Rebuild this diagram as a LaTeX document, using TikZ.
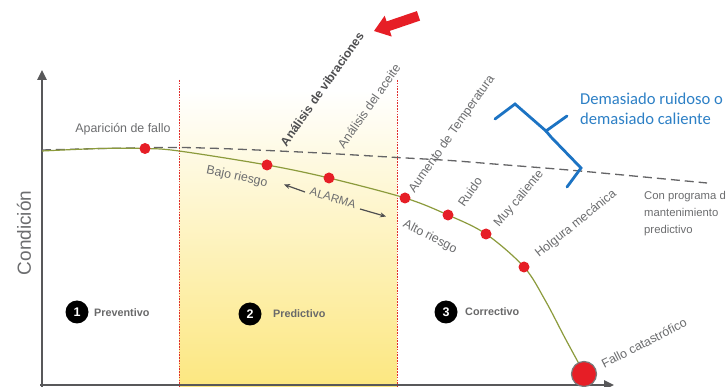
\documentclass[tikz,border=0pt]{standalone}
\usepackage{fontspec}
\setmainfont{Liberation Sans}
\newfontfamily\calibfont{Carlito}
\usetikzlibrary{arrows.meta}
\definecolor{lblgray}{RGB}{108,109,111}
\definecolor{dkgray}{RGB}{78,78,80}
\definecolor{axisgray}{RGB}{88,88,90}
\definecolor{dashgray}{RGB}{100,100,102}
\definecolor{curvegreen}{RGB}{140,155,60}
\definecolor{dotred}{RGB}{230,30,38}
\definecolor{zoneyellow}{RGB}{252,231,128}
\definecolor{zonered}{RGB}{225,45,45}
\definecolor{braceblue}{RGB}{28,115,195}
\definecolor{txtblue}{RGB}{45,128,198}
\begin{document}
\begin{tikzpicture}[x=1pt,y=1pt,
  lbl/.style={text=lblgray, font=\fontsize{12.4}{14}\selectfont, inner sep=1pt},
  boldlbl/.style={text=dkgray, font=\bfseries\fontsize{12.2}{14}\selectfont, inner sep=1pt},
  zonelbl/.style={text=dkgray!85, font=\bfseries\fontsize{10.8}{12}\selectfont, inner sep=0pt, anchor=west},
  numcirc/.style={circle, fill=black, text=white, minimum size=23pt, inner sep=0pt, font=\bfseries\fontsize{12.5}{12}\selectfont},
  reddot/.style={circle, fill=dotred, minimum size=11pt, inner sep=0pt},
  bigdot/.style={circle, fill=dotred, draw=axisgray!80, line width=1.2pt, minimum size=25pt, inner sep=0pt},
  zoneline/.style={zonered, line width=0.8pt, dash pattern=on 1.6pt off 1.2pt},
  axisline/.style={axisgray, line width=2.4pt},
  dashline/.style={dashgray, line width=1.3pt, dash pattern=on 9pt off 5pt},
  curveline/.style={curvegreen, line width=1.2pt},
  alarmarrow/.style={dkgray, line width=1.2pt, -{Stealth[length=6pt,width=5pt]}},
  bracestyle/.style={braceblue, line width=2.8pt, line cap=round, line join=miter},
  bluetxt/.style={text=txtblue, font=\calibfont\fontsize{16.6}{20}\selectfont, inner sep=0pt, anchor=base west},
  progtxt/.style={text=lblgray, font=\fontsize{11.3}{13}\selectfont, inner sep=0pt, anchor=base west}
]
\useasboundingbox (0,0) rectangle (726,-387);
\clip (0,0) rectangle (726,-387);
\fill[white] (0,0) rectangle (726,-387);

% predictive zone
\shade[top color=white, bottom color=zoneyellow] (179,-90) rectangle (397,-387);
\draw[zoneline] (179,-80) -- (179,-387);
\draw[zoneline] (397,-80) -- (397,-387);

% axes
\coordinate (yaxbot) at (42,-387);
\coordinate (yaxtop) at (42,-70);
\coordinate (xaxleft) at (40,-385);
\coordinate (xaxright) at (614,-385);
\draw[axisline, -{Triangle[length=10pt,width=9pt]}] (yaxbot) -- (yaxtop);
\draw[axisline, -{Triangle[length=10pt,width=9pt]}] (xaxleft) -- (xaxright);

% dashed reference line
\draw[dashline] plot[smooth] coordinates {(42,-150) (179,-147.5) (300,-152) (397,-157.5) (450,-160.5) (500,-164.5) (580,-171) (707,-183)};

% degradation curve
\draw[curveline] plot[smooth, tension=0.55] coordinates {(42,-151) (100,-148.5) (145,-148.5) (179,-151) (267,-165) (329,-178) (405,-198) (448,-215) (486,-234) (524,-267) (545,-300) (565,-338) (584,-373)};

% dots
\node[reddot] (d1) at (145,-148.5) {};
\node[reddot] (d2) at (267,-165) {};
\node[reddot] (d3) at (329,-178) {};
\node[reddot] (d4) at (405,-198) {};
\node[reddot] (d5) at (448,-215) {};
\node[reddot] (d6) at (486,-234) {};
\node[reddot] (d7) at (524,-267) {};
\node[bigdot] (fail) at (584,-374) {};

% labels
\node[lbl] (aparicion) at (123,-129) {Aparición de fallo};
\node[lbl, rotate=-12] (bajo) at (237,-177) {Bajo riesgo};
\node[lbl, rotate=-17, font=\fontsize{11.5}{13}\selectfont] (alarma) at (333,-198) {ALARMA};
\coordinate (alL1) at (305,-192);
\coordinate (alL2) at (284,-184.5);
\coordinate (alR1) at (360,-209);
\coordinate (alR2) at (386,-216.5);
\draw[alarmarrow] (alL1) -- (alL2);
\draw[alarmarrow] (alR1) -- (alR2);
\node[lbl, rotate=-27] (alto) at (430,-237) {Alto riesgo};
\node[boldlbl, rotate=55] (vibra) at (322,-89) {Análisis de vibraciones};
\node[lbl, rotate=55] (aceite) at (369,-106) {Análisis del aceite};
\node[lbl, rotate=55] (temp) at (452,-134) {Aumento de Temperatura};
\node[lbl, rotate=55] (ruido) at (470,-192) {Ruido};
\node[lbl, rotate=50] (caliente) at (519,-199) {Muy caliente};
\node[lbl, rotate=39] (holgura) at (576,-224) {Holgura mecánica};
\node[lbl, rotate=27] (fallo) at (644,-343) {Fallo catastrófico};

% red arrow
\begin{scope}[shift={(374,-31)}, rotate=18.8]
\fill[dotred] (0,0) -- (15,11) -- (15,5) -- (47,5) -- (47,-5) -- (15,-5) -- (15,-11) -- cycle;
\end{scope}

% zones
\node[numcirc] (n1) at (77,-312) {1};
\node[zonelbl] (z1) at (94,-313) {Preventivo};
\node[numcirc] (n2) at (250,-314) {2};
\node[zonelbl] (z2) at (273,-314) {Predictivo};
\node[numcirc] (n3) at (446,-312) {3};
\node[zonelbl] (z3) at (465,-312) {Correctivo};

% axis label
\node[rotate=90, text=lblgray, font=\fontsize{19}{19}\selectfont] (cond) at (24,-233) {Condición};

% program text
\node[progtxt] (cp1) at (644,-200) {Con programa de};
\node[progtxt] (cp2) at (644,-217) {mantenimiento};
\node[progtxt] (cp3) at (644,-234) {predictivo};

% blue brace and text
\draw[bracestyle] (495,-119) -- (515,-104) -- (546,-131) -- (567,-116);
\draw[bracestyle] (546,-131) -- (551,-137) -- (581,-168) -- (567,-187);
\node[bluetxt] (bt1) at (580,-105) {Demasiado ruidoso o};
\node[bluetxt] (bt2) at (580,-125) {demasiado caliente};
\end{tikzpicture}
\end{document}
